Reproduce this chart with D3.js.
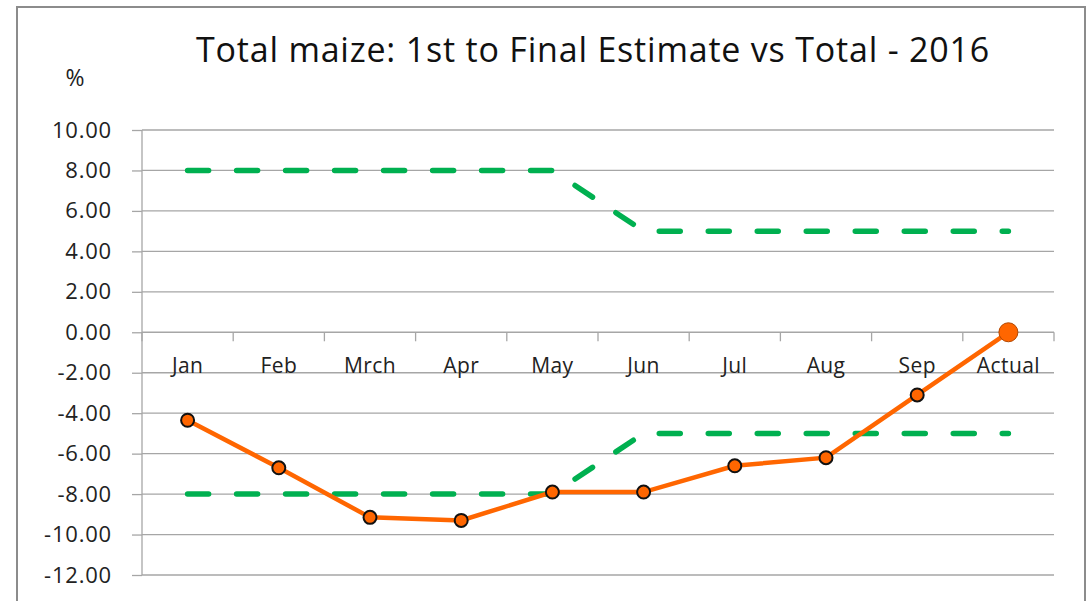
<!DOCTYPE html>
<html>
<head>
<meta charset="utf-8">
<script src="https://cdn.jsdelivr.net/npm/d3@7"></script>
<style>
  body { margin: 0; background: #fff; }
  svg { display: block; font-family: "Open Sans", "Liberation Sans", sans-serif; }
  .grid line { stroke: #a6a6a6; stroke-width: 1.3; }
  .axis path, .axis line { stroke: #a6a6a6; stroke-width: 1.3; }
  .axis text { fill: #222; font-family: "Open Sans", sans-serif; }
</style>
</head>
<body>
<div id="app"></div>
<script>
var months = ['Jan','Feb','Mrch','Apr','May','Jun','Jul','Aug','Sep','Actual'];
var estimate = [-4.35,-6.7,-9.15,-9.3,-7.9,-7.9,-6.6,-6.2,-3.1,0];
var upperBand = [8,8,8,8,8,5,5,5,5,5];
var lowerBand = [-8,-8,-8,-8,-8,-5,-5,-5,-5,-5];
var yTicks = [10,8,6,4,2,0,-2,-4,-6,-8,-10,-12];

var width = 1090, height = 601;
var plotLeft = 142, plotRight = 1054, plotTop = 130, plotBottom = 575;

var svg = d3.select('#app')
  .append('svg')
    .attr('width', width)
    .attr('height', height);

// outer frame
svg.append('rect')
    .attr('x', 17).attr('y', 7)
    .attr('width', 1068).attr('height', 620)
    .attr('fill', 'none')
    .attr('stroke', '#8c8c8c')
    .attr('stroke-width', 2);

var x = d3.scaleBand()
    .domain(months)
    .range([plotLeft, plotRight]);

var y = d3.scaleLinear()
    .domain([-12, 10])
    .range([plotBottom, plotTop]);

// horizontal gridlines
svg.append('g')
    .attr('class', 'grid')
  .selectAll('line')
    .data(yTicks)
  .enter().append('line')
    .attr('x1', plotLeft)
    .attr('x2', plotRight)
    .attr('y1', function(d){ return y(d); })
    .attr('y2', function(d){ return y(d); });

// y axis
var yAxis = svg.append('g')
    .attr('class', 'axis')
    .attr('transform', 'translate(' + plotLeft + ',0)')
    .call(d3.axisLeft(y).tickValues(yTicks).tickSize(10).tickPadding(20));
yAxis.attr('font-family', null);
yAxis.select('.domain').attr('d', 'M0,' + plotTop + 'V' + plotBottom);
yAxis.selectAll('text')
    .style('font-size', '22px')
    .style('letter-spacing', '0.8px')
    .text(function(d){ return d3.format('.2f')(d).replace('\u2212', '-'); });

// x axis on zero line
var xAxis = svg.append('g')
    .attr('class', 'axis')
    .attr('transform', 'translate(0,' + y(0) + ')')
    .call(d3.axisBottom(x).tickSize(0).tickPadding(26));
xAxis.attr('font-family', null);
xAxis.select('.domain').remove();
xAxis.selectAll('text').style('font-size', '21px').style('letter-spacing', '0.4px');
xAxis.selectAll('.sep')
    .data(d3.range(months.length + 1))
  .enter().append('line')
    .attr('class', 'sep')
    .attr('x1', function(i){ return plotLeft + i * x.bandwidth(); })
    .attr('x2', function(i){ return plotLeft + i * x.bandwidth(); })
    .attr('y1', 0)
    .attr('y2', 9);

function cx(d){ return x(d) + x.bandwidth() / 2; }

var line = d3.line()
    .x(function(d){ return cx(d.m); })
    .y(function(d){ return y(d.v); });

function pairs(vals){ return vals.map(function(v, i){ return {m: months[i], v: v}; }); }

// green bands
[upperBand, lowerBand].forEach(function(b){
  svg.append('path')
      .datum(pairs(b))
      .attr('d', line)
      .attr('fill', 'none')
      .attr('stroke', '#00b050')
      .attr('stroke-width', 5.5)
      .attr('stroke-linecap', 'round')
      .attr('stroke-dasharray', '21,28');
});

// orange estimate line
svg.append('path')
    .datum(pairs(estimate))
    .attr('d', line)
    .attr('fill', 'none')
    .attr('stroke', '#ff6600')
    .attr('stroke-width', 4.5);

svg.append('g')
  .selectAll('circle')
    .data(pairs(estimate))
  .enter().append('circle')
    .attr('cx', function(d){ return cx(d.m); })
    .attr('cy', function(d){ return y(d.v); })
    .attr('r', function(d, i){ return i === months.length - 1 ? 9.5 : 6.5; })
    .attr('fill', '#ff6600')
    .attr('stroke', function(d, i){ return i === months.length - 1 ? '#b34700' : '#111'; })
    .attr('stroke-width', function(d, i){ return i === months.length - 1 ? 1 : 2; });

// title and unit
svg.append('text')
    .text('Total maize: 1st to Final Estimate vs Total - 2016')
    .attr('x', 593)
    .attr('y', 62)
    .attr('text-anchor', 'middle')
    .style('font-size', '34px')
    .style('letter-spacing', '0.8px')
    .attr('fill', '#111');

svg.append('text')
    .text('%')
    .attr('x', 75)
    .attr('y', 86)
    .attr('text-anchor', 'middle')
    .style('font-size', '23px')
    .attr('fill', '#222');
</script>
</body>
</html>
